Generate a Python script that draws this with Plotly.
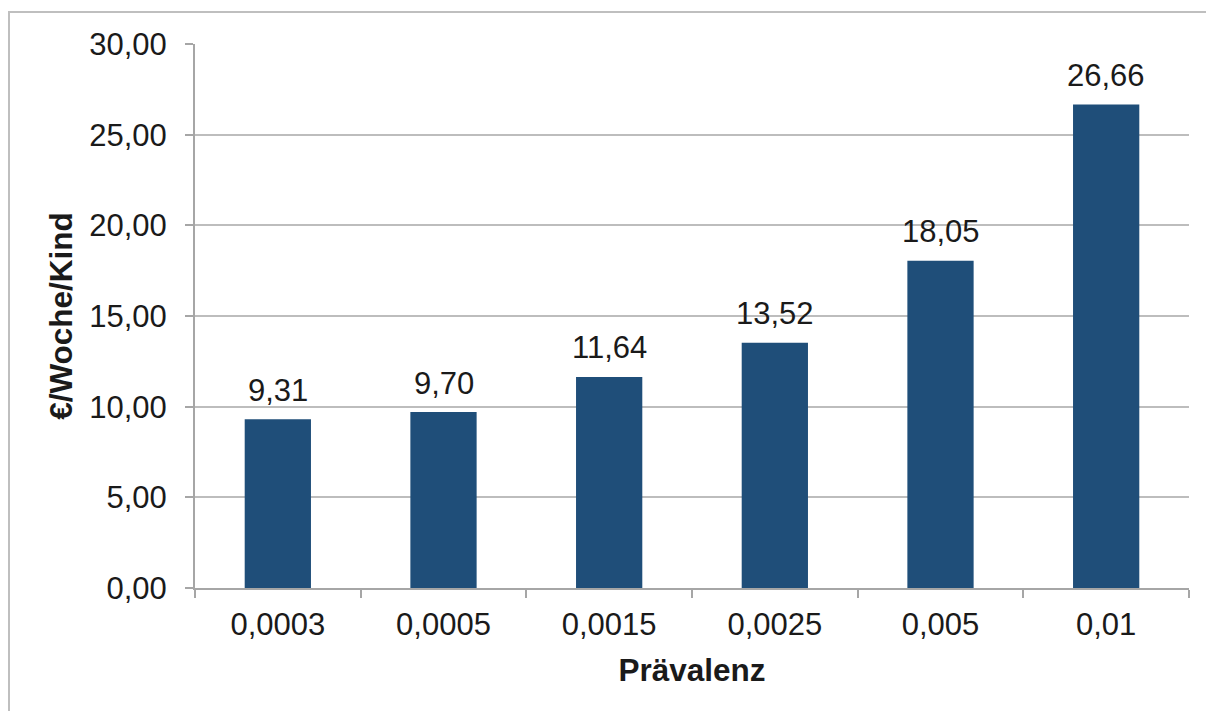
import plotly.graph_objects as go

categories = ["0,0003", "0,0005", "0,0015", "0,0025", "0,005", "0,01"]
values = [9.31, 9.70, 11.64, 13.52, 18.05, 26.66]
y_ticks = [0, 5, 10, 15, 20, 25, 30]
x_title = "Prävalenz"
y_title = "€/Woche/Kind"

# page has an 8px body margin, so the figure is 8px smaller and offset
W, H = 1206, 703
L, R, T, B = 187, 25, 36, 123
pw, ph = W - L - R, H - T - B

FONT = "Liberation Sans, Arial, sans-serif"
BAR = "#1f4e79"
TXT = "#1a1a1a"

fig = go.Figure()
fig.add_trace(go.Bar(x=categories, y=values, marker=dict(color=BAR, line=dict(width=0)),
                     hoverinfo="skip"))

for c, v in zip(categories, values):
    fig.add_annotation(x=c, y=v, text=f"{v:.2f}".replace(".", ","), showarrow=False,
                       yanchor="middle", yshift=29,
                       font=dict(family=FONT, size=31, color=TXT))

def px_to_paper_x(px):
    return (px - L) / pw

def px_to_paper_y(py):
    return (H - B - py) / ph

fig.add_shape(type="rect", xref="paper", yref="paper",
              x0=px_to_paper_x(1), x1=px_to_paper_x(1230),
              y0=px_to_paper_y(730), y1=px_to_paper_y(4),
              line=dict(color="#bfbfbf", width=2), fillcolor="rgba(0,0,0,0)", layer="below")

fig.update_layout(
    width=W, height=H,
    margin=dict(l=L, r=R, t=T, b=B),
    paper_bgcolor="white", plot_bgcolor="white",
    separators=",.",
    bargap=0.6,
    showlegend=False,
    font=dict(family=FONT, size=31, color=TXT),
    xaxis=dict(
        type="category",
        showline=True, linecolor="#a6a6a6", linewidth=2,
        ticks="outside", ticklen=8, tickcolor="#a6a6a6", tickwidth=2,
        tickson="boundaries",
        showgrid=False,
        ticklabelstandoff=8,
        tickfont=dict(family=FONT, size=31, color=TXT),
        title=dict(text=f"<b>{x_title}</b>", standoff=18,
                   font=dict(family=FONT, size=31.5, color=TXT)),
    ),
    yaxis=dict(
        range=[0, 30],
        tickvals=y_ticks,
        tickformat=".2f",
        showline=True, linecolor="#a6a6a6", linewidth=2,
        ticks="outside", ticklen=8, tickcolor="#a6a6a6", tickwidth=2,
        showgrid=True, gridcolor="#bdbdbd", gridwidth=2,
        zeroline=False,
        ticklabelstandoff=12,
        tickfont=dict(family=FONT, size=31, color=TXT),
        title=dict(text=f"<b>{y_title}</b>", standoff=7,
                   font=dict(family=FONT, size=31.5, color=TXT)),
    ),
)

fig.write_html("out.html")
